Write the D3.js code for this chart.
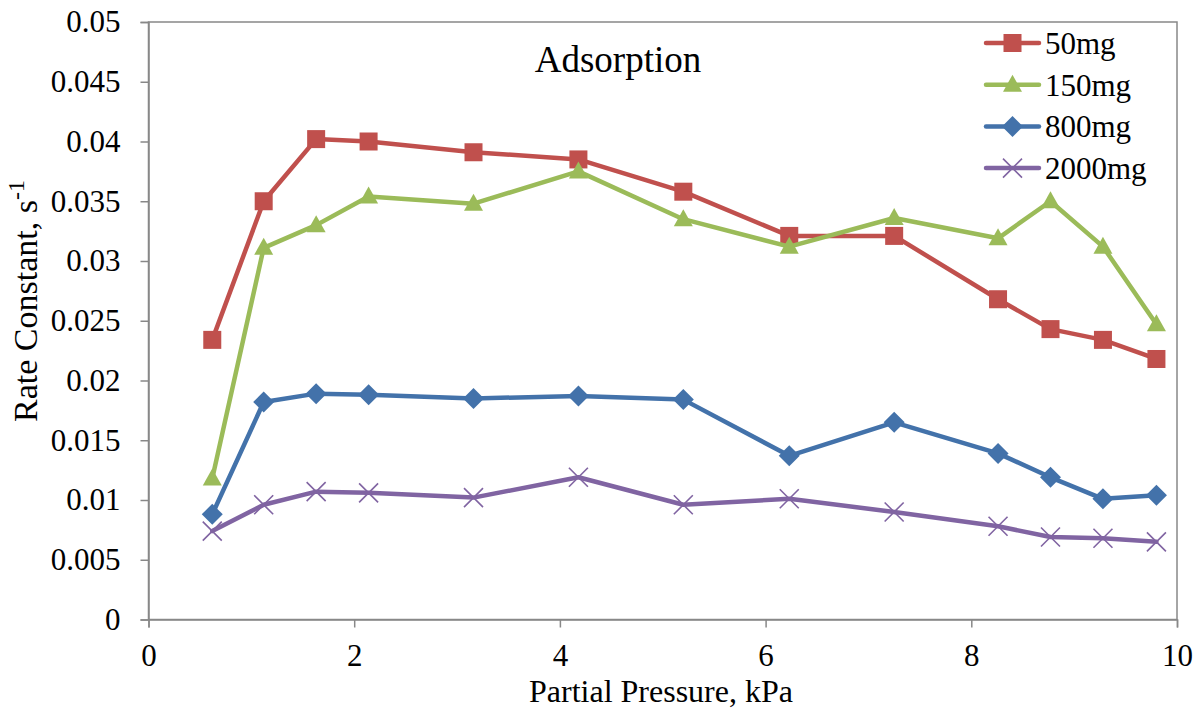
<!DOCTYPE html>
<html>
<head>
  <meta charset="UTF-8">
  <title>Adsorption</title>
  <style>
    body {
      margin: 0;
      background: white;
    }
    svg {
      display: block;
      font-family: "Liberation Serif", "Times New Roman", serif;
    }
  </style>
</head>
<body>
<svg></svg>
<script src="https://d3js.org/d3.v7.min.js"></script>
<script>

// Data
let pressure = [0.62, 1.12, 1.63, 2.14, 3.16, 4.18, 5.2, 6.23, 7.25, 8.26, 8.77, 9.28, 9.8];
let rate50 = [0.0234, 0.0350, 0.0402, 0.0400, 0.0391, 0.0385, 0.0358, 0.0321, 0.0321, 0.0268, 0.0243, 0.0234, 0.0218];
let rate150 = [0.0118, 0.0311, 0.0330, 0.0354, 0.0348, 0.0375, 0.0335, 0.0312, 0.0336, 0.0319, 0.0350, 0.0312, 0.0247];
let rate800 = [0.0088, 0.0182, 0.0189, 0.0188, 0.0185, 0.0187, 0.0184, 0.0137, 0.0165, 0.0139, 0.0119, 0.0101, 0.0104];
let rate2000 = [0.0074, 0.0096, 0.0107, 0.0106, 0.0102, 0.0119, 0.0096, 0.0101, 0.0090, 0.0078, 0.0069, 0.0068, 0.0065];
let seriesNames = ["50mg", "150mg", "800mg", "2000mg"];
let xTicks = [0, 2, 4, 6, 8, 10];

let series = [
  {name: seriesNames[0], values: rate50, color: "#C0504D", marker: "square"},
  {name: seriesNames[1], values: rate150, color: "#9BBB59", marker: "triangle"},
  {name: seriesNames[2], values: rate800, color: "#4372AA", marker: "diamond"},
  {name: seriesNames[3], values: rate2000, color: "#8064A2", marker: "cross"}
];

let width = 1194, height = 710;
let margin = {top: 22, right: 17, bottom: 90.5, left: 148.5};

let svg = d3.select("svg")
    .attr("width", width)
    .attr("height", height);

let x = d3.scaleLinear().domain([0, 10]).range([margin.left, width - margin.right]);
let y = d3.scaleLinear().domain([0, 0.05]).range([height - margin.bottom, margin.top]);

// plot frame
svg.append("rect")
    .attr("x", x(0))
    .attr("y", y(0.05))
    .attr("width", x(10) - x(0))
    .attr("height", y(0) - y(0.05))
    .attr("fill", "none")
    .attr("stroke", "#888")
    .attr("stroke-width", 1.5);

let fmt = d => d === 0 ? "0" : d3.format(".3~f")(d);

let yAxis = svg.append("g")
    .attr("transform", "translate(" + x(0) + ",0)")
    .call(d3.axisLeft(y).ticks(10).tickFormat(fmt).tickSizeOuter(0).tickSize(8).tickPadding(20));

let xAxis = svg.append("g")
    .attr("transform", "translate(0," + y(0) + ")")
    .call(d3.axisBottom(x).tickValues(xTicks).tickFormat(d3.format("d")).tickSizeOuter(0).tickSize(8).tickPadding(16));

[xAxis, yAxis].forEach(a => {
  a.attr("font-family", null);
  a.select(".domain").attr("stroke", "#888").attr("stroke-width", 1.5);
  a.selectAll(".tick line").attr("stroke", "#888").attr("stroke-width", 1.5);
  a.selectAll("text")
    .attr("fill", "#000")
    .style("font-family", "Liberation Serif, serif")
    .style("font-size", "31px");
});

// marker shapes
function drawMarker(g, type, color) {
  if (type == "square") {
    g.append("rect").attr("x", -9).attr("y", -9).attr("width", 18).attr("height", 18).attr("fill", color);
  } else if (type == "triangle") {
    g.append("path").attr("d", "M0,-10L9.5,7L-9.5,7Z").attr("fill", color);
  } else if (type == "diamond") {
    g.append("path").attr("d", "M0,-10.5L10.5,0L0,10.5L-10.5,0Z").attr("fill", color);
  } else {
    g.append("path").attr("d", "M-9.5,-9.5L9.5,9.5M-9.5,9.5L9.5,-9.5")
      .attr("stroke", color).attr("stroke-width", 1.6).attr("fill", "none");
  }
}

let line = d3.line()
    .x(d => x(d[0]))
    .y(d => y(d[1]));

series.forEach(s => {
  let pts = pressure.map((p, i) => [p, s.values[i]]);
  let g = svg.append("g").attr("class", "series");
  g.append("path")
      .datum(pts)
      .attr("d", line)
      .attr("fill", "none")
      .attr("stroke", s.color)
      .attr("stroke-width", 4.5)
      .attr("stroke-linejoin", "round")
      .attr("stroke-linecap", "round");
  g.selectAll("g.mk")
      .data(pts)
      .enter()
      .append("g")
      .attr("class", "mk")
      .attr("transform", d => "translate(" + x(d[0]) + "," + y(d[1]) + ")")
      .each(function() { drawMarker(d3.select(this), s.marker, s.color); });
});

// legend
let legend = svg.append("g");
series.forEach((s, i) => {
  let ly = 43 + i * 41.7;
  legend.append("line")
      .attr("x1", 986).attr("x2", 1039)
      .attr("y1", ly).attr("y2", ly)
      .attr("stroke", s.color)
      .attr("stroke-width", 4.5)
      .attr("stroke-linecap", "round");
  let m = legend.append("g").attr("transform", "translate(1012.5," + ly + ")");
  drawMarker(m, s.marker, s.color);
  legend.append("text")
      .attr("x", 1045)
      .attr("y", ly + 11)
      .style("font-size", "31px")
      .text(s.name);
});

// chart title inside plot
svg.append("text")
    .attr("x", 618)
    .attr("y", 72)
    .attr("text-anchor", "middle")
    .style("font-size", "37px")
    .text("Adsorption");

// axis titles
svg.append("text")
    .attr("x", 661)
    .attr("y", 702)
    .attr("text-anchor", "middle")
    .style("font-size", "32px")
    .text("Partial Pressure, kPa");

let yt = svg.append("text")
    .attr("transform", "translate(37,301) rotate(-90)")
    .attr("text-anchor", "middle")
    .style("font-size", "34px");
yt.append("tspan").text("Rate Constant, s");
yt.append("tspan").attr("dy", -13).style("font-size", "24px").text("-1");

</script>
</body>
</html>
